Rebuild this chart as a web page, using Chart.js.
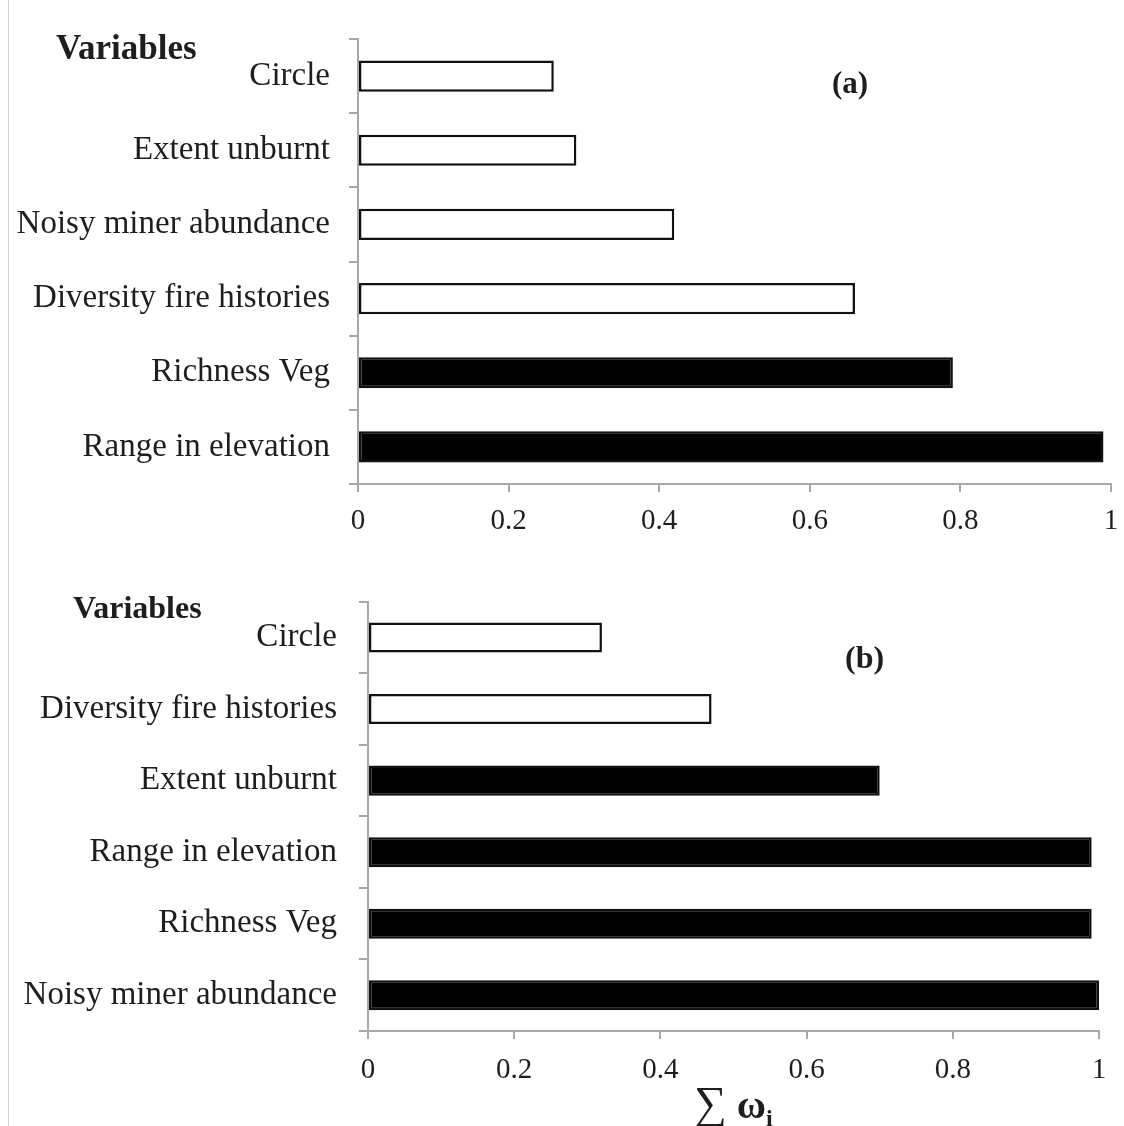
<!DOCTYPE html>
<html>
<head>
<meta charset="utf-8">
<script src="https://cdn.jsdelivr.net/npm/chart.js@4.4.1/dist/chart.umd.min.js"></script>
<style>
  body { margin: 0; background: #fff; width: 1124px; height: 1126px; position: relative; overflow: hidden;
         font-family: 'Liberation Serif', 'Times New Roman', serif; color: #1e1e1e; }
  canvas { position: absolute; left: 0; }
  .note { position: absolute; line-height: 1; white-space: nowrap; }
  .edge { position: absolute; left: 8px; top: 0; width: 1px; height: 1126px; background: #d4d4d4; }
</style>
</head>
<body>
<div class="edge"></div>
<canvas id="chartA" width="1124" height="560" style="top:0"></canvas>
<canvas id="chartB" width="1124" height="566" style="top:560px"></canvas>

<div class="note" style="left:56px;top:30px;font-size:35px;font-weight:bold">Variables</div>
<div class="note" style="left:832px;top:67px;font-size:31px;font-weight:bold">(a)</div>
<div class="note" style="left:73px;top:591px;font-size:32px;font-weight:bold">Variables</div>
<div class="note" style="left:845px;top:641px;font-size:32px;font-weight:bold">(b)</div>
<div class="note" style="left:694px;top:1080px;font-size:40px"><span style="font-size:46px">&sum;</span> <b>&omega;<span style="font-size:24px;position:relative;top:8px">i</span></b></div>

<script>
'use strict';

// panel (a)
const labelsA = ['Circle', 'Extent unburnt', 'Noisy miner abundance',
  'Diversity fire histories', 'Richness Veg', 'Range in elevation'];
const valuesA = [0.26, 0.29, 0.42, 0.66, 0.79, 0.99];
const importantA = [false, false, false, false, true, true];

// panel (b)
const labelsB = ['Circle', 'Diversity fire histories', 'Extent unburnt',
  'Range in elevation', 'Richness Veg', 'Noisy miner abundance'];
const valuesB = [0.32, 0.47, 0.70, 0.99, 0.99, 1.0];
const importantB = [false, false, true, true, true, true];

const xTicks = [0, 0.2, 0.4, 0.6, 0.8, 1];

const axisGrey = '#a8a8a8';
const textCol = '#1e1e1e';

function makeChart(id, labels, values, important, box){
  const ctx = document.getElementById(id).getContext('2d');
  return new Chart(ctx, {
    type: 'bar',
    data: {
      labels: labels,
      datasets: [{
        data: values,
        backgroundColor: important.map(b => b ? '#000' : '#fff'),
        borderColor: '#111',
        borderWidth: 2.5,
        borderSkipped: false,
        barPercentage: 0.42,
        categoryPercentage: 1
      }]
    },
    options: {
      indexAxis: 'y',
      responsive: false,
      animation: false,
      layout: {padding: {left: 0, right: box.right, top: box.top, bottom: box.bottom}},
      plugins: {legend: {display: false}, tooltip: {enabled: false}},
      scales: {
        x: {
          min: 0,
          max: 1,
          afterBuildTicks: s => { s.ticks = xTicks.map(v => ({value: v})); },
          afterFit: s => { s.height = 60; s.paddingLeft = 0; s.paddingRight = 0; },
          grid: {drawOnChartArea: false, drawTicks: true, tickLength: 8, color: axisGrey, lineWidth: 2},
          border: {color: axisGrey, width: 2},
          ticks: {color: textCol, padding: box.xPad, maxRotation: 0,
            callback: v => String(v),
            font: {family: 'Liberation Serif', size: 29}}
        },
        y: {
          afterFit: s => { s.width = box.axisX; },
          grid: {drawOnChartArea: false, drawTicks: true, tickLength: 9, color: axisGrey, lineWidth: 2, offset: true},
          border: {color: axisGrey, width: 2},
          ticks: {color: textCol, padding: box.yPad, autoSkip: false,
            font: {family: 'Liberation Serif', size: 33}}
        }
      }
    }
  });
}

makeChart('chartA', labelsA, valuesA, importantA,
  {axisX: 358, right: 13, top: 39, bottom: 16, xPad: 12, yPad: 19});
makeChart('chartB', labelsB, valuesB, importantB,
  {axisX: 368, right: 25, top: 40, bottom: 35, xPad: 14, yPad: 22});
</script>
</body>
</html>
